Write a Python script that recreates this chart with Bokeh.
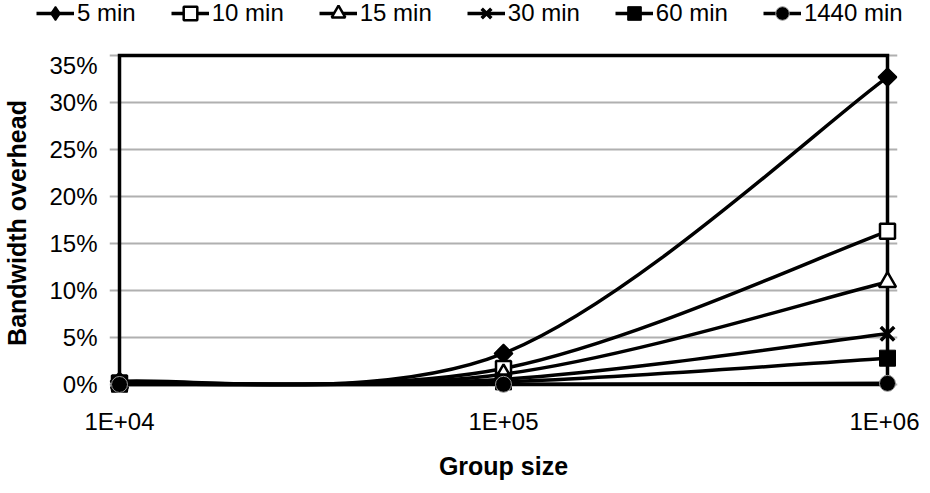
import numpy as np
from bokeh.plotting import figure
from bokeh.layouts import column
from bokeh.models import FixedTicker, Legend, LegendItem, Range1d
from bokeh.embed import file_html
from bokeh.resources import INLINE

# ---------------- data ----------------
group_sizes = [1e4, 1e5, 1e6]
x_tick_labels = ["1E+04", "1E+05", "1E+06"]
series_names = ["5 min", "10 min", "15 min", "30 min", "60 min", "1440 min"]
overhead_5 = [0.33, 3.3, 32.7]
overhead_10 = [0.17, 1.7, 16.3]
overhead_15 = [0.11, 1.1, 10.9]
overhead_30 = [0.05, 0.55, 5.4]
overhead_60 = [0.03, 0.28, 2.8]
overhead_1440 = [0.001, 0.02, 0.12]
y_ticks = [0, 5, 10, 15, 20, 25, 30, 35]
y_tick_labels = ["0%", "5%", "10%", "15%", "20%", "25%", "30%", "35%"]

series_values = [overhead_5, overhead_10, overhead_15, overhead_30, overhead_60, overhead_1440]

# ---------------- layout ----------------
FONT = "Liberation Sans"
TOTAL_W = 914
LEGEND_H = 51
inner_w, inner_h = 768, 329          # area spanned by the axes box
pad_l, pad_r, pad_t, pad_b = 10, 10, 4, 10
px_per_dec = inner_w / (np.log10(group_sizes[-1]) - np.log10(group_sizes[0]))
px_per_pct = inner_h / (y_ticks[-1] - y_ticks[0])

x_range = Range1d(10 ** (np.log10(group_sizes[0]) - pad_l / px_per_dec),
                  10 ** (np.log10(group_sizes[-1]) + pad_r / px_per_dec))
y_range = Range1d(y_ticks[0] - pad_b / px_per_pct, y_ticks[-1] + pad_t / px_per_pct)

p = figure(x_axis_type="log", x_range=x_range, y_range=y_range,
           frame_width=inner_w + pad_l + pad_r, frame_height=inner_h + pad_t + pad_b,
           min_border_left=104, min_border_right=22, min_border_top=0, min_border_bottom=83,
           output_backend="svg", toolbar_location=None)
p.outline_line_color = None
p.background_fill_color = "white"
p.border_fill_color = "white"

# grid
p.xgrid.visible = False
p.ygrid.ticker = FixedTicker(ticks=y_ticks)
p.ygrid.bounds = (group_sizes[0], group_sizes[-1])
p.ygrid.grid_line_color = "#b0b0b0"
p.ygrid.grid_line_width = 2

# axes
for ax in (p.xaxis, p.yaxis):
    ax.axis_line_color = None
    ax.major_tick_line_color = None
    ax.minor_tick_line_color = None
    ax.major_tick_out = 0
    ax.major_tick_in = 0
    ax.major_label_text_font = FONT
    ax.major_label_text_font_size = "24px"
    ax.major_label_text_color = "black"
    ax.axis_label_text_font = FONT
    ax.axis_label_text_font_size = "25px"
    ax.axis_label_text_font_style = "bold"
    ax.axis_label_text_color = "black"

p.xaxis.ticker = FixedTicker(ticks=group_sizes)
p.xaxis.bounds = (group_sizes[0], group_sizes[-1])
p.xaxis.major_label_overrides = {v: t for v, t in zip(group_sizes, x_tick_labels)}
p.xaxis.major_label_standoff = 13
p.xaxis.axis_label = "Group size"
p.xaxis.axis_label_standoff = 14

p.yaxis.ticker = FixedTicker(ticks=y_ticks)
p.yaxis.bounds = (y_ticks[0], y_ticks[-1])
p.yaxis.major_label_overrides = {v: t for v, t in zip(y_ticks, y_tick_labels)}
p.yaxis.major_label_standoff = 12
p.yaxis.axis_label = "Bandwidth overhead"
p.yaxis.axis_label_standoff = 15

# plot-area box (Excel style)
bx = [group_sizes[0], group_sizes[0], group_sizes[-1], group_sizes[-1], group_sizes[0]]
by = [y_ticks[0], y_ticks[-1], y_ticks[-1], y_ticks[0], y_ticks[0]]
p.line(bx, by, line_color="black", line_width=3.5, line_join="miter")


def smooth_segments(xs, ys):
    """Catmull-Rom style bezier controls (Excel smoothing) in log-x space."""
    lx = np.log10(np.asarray(xs, dtype=float))
    yy = np.asarray(ys, dtype=float)
    n = len(lx)
    x0, y0, x1, y1, cx0, cy0, cx1, cy1 = ([] for _ in range(8))
    for i in range(n - 1):
        im1 = max(i - 1, 0)
        ip2 = min(i + 2, n - 1)
        c0x = lx[i] + (lx[i + 1] - lx[im1]) / 6
        c0y = yy[i] + (yy[i + 1] - yy[im1]) / 6
        c1x = lx[i + 1] - (lx[ip2] - lx[i]) / 6
        c1y = yy[i + 1] - (yy[ip2] - yy[i]) / 6
        x0.append(10 ** lx[i]); y0.append(yy[i])
        x1.append(10 ** lx[i + 1]); y1.append(yy[i + 1])
        cx0.append(10 ** c0x); cy0.append(c0y)
        cx1.append(10 ** c1x); cy1.append(c1y)
    return dict(x0=x0, y0=y0, x1=x1, y1=y1, cx0=cx0, cy0=cy0, cx1=cx1, cy1=cy1)


marker_styles = [
    dict(marker="square", angle=np.pi / 4, size=13, fill_color="black", line_color="black", line_width=1.5),
    dict(marker="square", size=15, fill_color="white", line_color="black", line_width=2.5),
    dict(marker="triangle", size=17, fill_color="white", line_color="black", line_width=2.5),
    dict(marker="x", size=19, fill_color="black", line_color="black", line_width=3.5),
    dict(marker="square", size=16, fill_color="black", line_color="black", line_width=1),
    dict(marker="circle", size=16, fill_color="black", line_color="#9a9a9a", line_width=1),
]
# legend swatches ignore the angle, so the diamond uses Bokeh's own diamond there
legend_marker_styles = [dict(marker="diamond", size=18, fill_color="black", line_color="black", line_width=1.5)] \
    + marker_styles[1:]

for vals in series_values:
    p.bezier(**smooth_segments(group_sizes, vals), line_color="black", line_width=3.5)
for vals, ms in zip(series_values, marker_styles):
    p.scatter(group_sizes, vals, **ms)

# ---------------- legend strip (own figure, spans full width) ----------------
# the series are added here too (they fall outside this strip's view), only so
# that the legend can draw their line + marker swatches
lg = figure(width=TOTAL_W, height=LEGEND_H, x_range=Range1d(0, 1), y_range=Range1d(0, 1),
            x_axis_location=None, y_axis_location=None, min_border=0,
            output_backend="svg", toolbar_location=None)
lg.outline_line_color = None
lg.grid.visible = False
lg.background_fill_color = "white"
lg.border_fill_color = "white"

if "frame_align" in lg.properties():
    lg.frame_align = False
    p.frame_align = False

leg_items = []
for name, vals, ms in zip(series_names, series_values, legend_marker_styles):
    ln = lg.line(group_sizes, vals, line_color="black", line_width=3.5)
    sc = lg.scatter(group_sizes, vals, **ms)
    leg_items.append(LegendItem(label=name, renderers=[ln, sc]))

legend = Legend(
    items=leg_items,
    orientation="horizontal",
    location=(36, 21),
    glyph_width=38, glyph_height=34, label_standoff=3, spacing=35,
    padding=0, margin=0,
    label_text_font=FONT, label_text_font_size="24px", label_text_color="black",
    background_fill_alpha=0, border_line_color=None,
)
lg.add_layout(legend, "center")

layout = column(lg, p, spacing=0)
open("out.html", "w").write(file_html(layout, INLINE))
